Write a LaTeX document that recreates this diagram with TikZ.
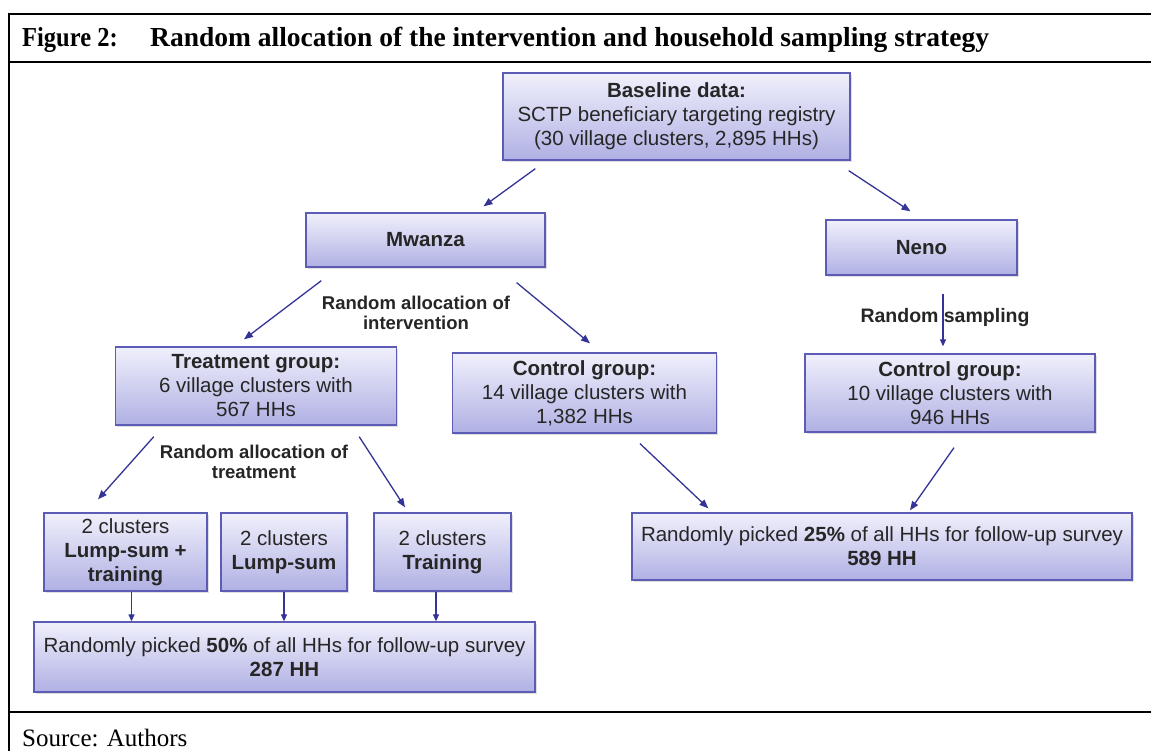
\documentclass[tikz,border=0pt]{standalone}
\usepackage{fontspec}
\setmainfont{Liberation Sans}
\newfontfamily\titlefont{Liberation Serif}
\usepackage{tikz}
\usetikzlibrary{arrows.meta,shadows}

\definecolor{boxtop}{RGB}{240,240,252}
\definecolor{boxbot}{RGB}{176,176,228}
\definecolor{boxline}{RGB}{92,92,182}
\definecolor{arrowblue}{RGB}{52,52,150}
\definecolor{inktext}{RGB}{38,38,38}

\tikzset{
  flowbox/.style={draw=boxline, line width=1.3pt, top color=boxtop, bottom color=boxbot,
    align=center, inner sep=0pt, text=inktext, font=\fontsize{20.5}{24}\selectfont,
    drop shadow={shadow xshift=1.5pt, shadow yshift=-2pt, opacity=0.25}},
  steplabel/.style={align=center, text=inktext, font=\bfseries\fontsize{18.5}{20.5}\selectfont},
  flowarrow/.style={draw=arrowblue, line width=1.3pt, -{Triangle[length=9pt,width=7pt]}},
  downarrow/.style={draw=arrowblue, line width=1.2pt, -{Triangle[length=7pt,width=6pt]}},
  frameline/.style={black, line width=2.2pt}
}

\begin{document}
\begin{tikzpicture}[x=1pt,y=-1pt]
    \useasboundingbox (0,0) rectangle (1151,751);
    \fill[white] (0,0) rectangle (1151,751);

    % frame and caption
    \draw[frameline] (1151,14) -- (9,14) -- (9,751);
    \draw[frameline] (9,62) -- (1151,62);
    \draw[frameline] (9,712) -- (1151,712);
    \node[anchor=west, inner sep=0pt, font=\titlefont\bfseries\fontsize{24.5}{30}\selectfont] (fignum) at (22,40) {\scalebox{1}[1.12]{Figure 2:}};
    \node[anchor=west, inner sep=0pt, font=\titlefont\bfseries\fontsize{27.5}{30}\selectfont] (figtitle) at (150,40) {Random allocation of the intervention and household sampling strategy};
    \node[anchor=west, inner sep=0pt, font=\titlefont\fontsize{25}{28}\selectfont] (source) at (22,738) {Source: Authors};

    % boxes
    \node[flowbox, minimum width=347pt, minimum height=87pt] (base) at (676.5,116.5) {\textbf{Baseline data:}\\SCTP beneficiary targeting registry\\(30 village clusters, 2,895 HHs)};
    \node[flowbox, minimum width=239pt, minimum height=54pt] (mwanza) at (425.5,240) {\textbf{Mwanza}};
    \node[flowbox, minimum width=191pt, minimum height=55pt] (neno) at (921.5,247.5) {\textbf{Neno}};
    \node[flowbox, minimum width=281pt, minimum height=78pt] (treat) at (256,386) {\textbf{Treatment group:}\\6 village clusters with\\567 HHs};
    \node[flowbox, minimum width=264pt, minimum height=80pt] (ctrlm) at (584.5,393) {\textbf{Control group:}\\14 village clusters with\\1,382 HHs};
    \node[flowbox, minimum width=290pt, minimum height=78pt] (ctrln) at (950,393) {\textbf{Control group:}\\10 village clusters with\\946 HHs};
    \node[flowbox, minimum width=163pt, minimum height=78pt] (lumptrain) at (125.5,552) {2 clusters\\\textbf{Lump-sum +}\\\textbf{training}};
    \node[flowbox, minimum width=126pt, minimum height=78pt] (lump) at (284,552) {2 clusters\\\textbf{Lump-sum}};
    \node[flowbox, minimum width=137pt, minimum height=78pt] (train) at (442.5,552) {2 clusters\\\textbf{Training}};
    \node[flowbox, minimum width=501pt, minimum height=70pt] (half) at (284.5,657) {Randomly picked \textbf{50\%} of all HHs for follow-up survey\\\textbf{287 HH}};
    \node[flowbox, minimum width=500pt, minimum height=67pt] (quarter) at (882,546.5) {Randomly picked \textbf{25\%} of all HHs for follow-up survey\\\textbf{589 HH}};

    % step labels
    \node[steplabel] (allocint) at (416,313) {Random allocation of\\intervention};
    \node[steplabel, font=\bfseries\fontsize{19.5}{21}\selectfont] (sampling) at (945,318) {Random sampling};
    \node[steplabel] (alloctreat) at (254,462) {Random allocation of\\treatment};

    % connectors
    \draw[flowarrow] ([shift={(33,8)}]base.south west) -- ([shift={(58,-6)}]mwanza.north);
    \draw[flowarrow] ([shift={(-2,10)}]base.south east) -- ([shift={(-11,-8)}]neno.north);
    \draw[flowarrow] ([shift={(16,13)}]mwanza.south west) -- ([shift={(-12,-7)}]treat.north);
    \draw[flowarrow] ([shift={(-29,15)}]mwanza.south east) -- ([shift={(5.5,-9)}]ctrlm.north);
    \draw[downarrow] ([shift={(21.5,18)}]neno.south) -- ([shift={(-7,-7)}]ctrln.north);
    \draw[flowarrow] ([shift={(39,11)}]treat.south west) -- ([shift={(-27.5,-13)}]lumptrain.north);
    \draw[flowarrow] ([shift={(-38,11)}]treat.south east) -- ([shift={(-37.5,-5)}]train.north);
    \draw[flowarrow] ([shift={(55.5,10)}]ctrlm.south) -- ([shift={(77,-4)}]quarter.north west);
    \draw[flowarrow] ([shift={(4,15)}]ctrln.south) -- ([shift={(28,-2)}]quarter.north);
    \draw[downarrow] ([xshift=6pt]lumptrain.south) -- ([xshift=6pt]lumptrain.south |- half.north);
    \draw[downarrow] (lump.south) -- (lump.south |- half.north);
    \draw[downarrow] ([xshift=-6.5pt]train.south) -- ([xshift=-6.5pt]train.south |- half.north);
\end{tikzpicture}
\end{document}
